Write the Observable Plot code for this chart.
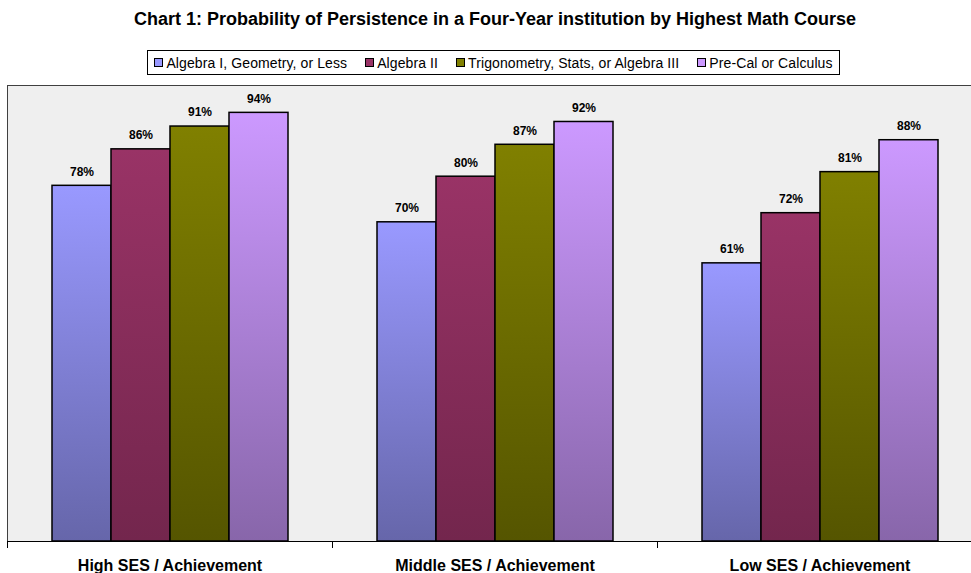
<!DOCTYPE html>
<html>
<head>
<meta charset="utf-8">
<script src="https://cdn.jsdelivr.net/npm/d3@7"></script>
<script src="https://cdn.jsdelivr.net/npm/@observablehq/plot@0.6"></script>
<style>
  html, body { margin: 0; padding: 0; overflow: hidden; background: #fff; width: 971px; height: 573px; }
  body { font-family: "Liberation Sans", Arial, sans-serif; position: relative; }
  #title { position: absolute; left: 0; top: 9px; width: 990px; text-align: center; font-weight: bold; font-size: 18px; }
  #legend { position: absolute; left: 147px; top: 50px; width: 691px; height: 23px; border: 1px solid #000; background: #fff;
            display: flex; align-items: center; justify-content: center; gap: 18px; font-size: 14px; letter-spacing: 0.1px; }
  #legend .item { display: flex; align-items: center; }
  #legend .sw { width: 7px; height: 7px; border: 1px solid #000; margin-right: 3px; }
  #chart { position: absolute; left: 0; top: 80px; width: 982px; }
  #chart svg { max-width: none !important; }
</style>
</head>
<body>
<div id="title">Chart 1: Probability of Persistence in a Four-Year institution by Highest Math Course</div>
<div id="legend"></div>
<div id="chart"></div>
<script>
const groups = ["High SES / Achievement", "Middle SES / Achievement", "Low SES / Achievement"];
const courses = ["Algebra I, Geometry, or Less", "Algebra II", "Trigonometry, Stats, or Algebra III", "Pre-Cal or Calculus"];
const highValues = [78, 86, 91, 94];
const middleValues = [70, 80, 87, 92];
const lowValues = [61, 72, 81, 88];
const topColors = ["#9999ff", "#993366", "#808000", "#cc99ff"];
const bottomColors = ["#6666aa", "#73264d", "#555500", "#8866aa"];

const seriesByGroup = [highValues, middleValues, lowValues];
const data = groups.flatMap((g, i) => seriesByGroup[i].map((v, j) => ({group: g, course: courses[j], value: v})));
const gradIds = courses.map((c, i) => "grad" + i);

// legend
const legend = d3.select("#legend");
courses.forEach((c, i) => {
  const it = legend.append("div").attr("class", "item");
  it.append("div").attr("class", "sw").style("background", topColors[i]);
  it.append("span").text(c);
});

const chart = Plot.plot({
  width: 982,
  height: 493,
  marginTop: 5,
  marginBottom: 32,
  marginLeft: 7,
  marginRight: 0,
  style: {fontFamily: "Liberation Sans, Arial, sans-serif", background: "transparent", maxWidth: "none"},
  fx: {domain: groups, padding: 0, label: null},
  x: {domain: courses, paddingInner: 0, paddingOuter: 0.754, axis: null},
  y: {domain: [0, 100], axis: null},
  color: {domain: courses, range: gradIds.map(id => `url(#${id})`)},
  marks: [
    Plot.frame({facet: "super", fill: "#efefef", stroke: "#404040"}),
    Plot.barY(data, {fx: "group", x: "course", y: "value", fill: "course", stroke: "#000", strokeWidth: 1.5}),
    Plot.text(data, {fx: "group", x: "course", y: "value", text: d => d.value + "%", dy: -14, fontWeight: "bold", fontSize: 12, fill: "#000"}),
    Plot.ruleY([0], {stroke: "#000", strokeWidth: 1}),
    Plot.frame({anchor: "left", insetTop: 456, insetBottom: -6, stroke: "#000"}),
    Plot.axisFx({anchor: "bottom", tickSize: 0, tickPadding: 18, fontSize: 16, fontWeight: "bold", label: null})
  ]
});

const svg = d3.select(chart);
const defs = svg.insert("defs", ":first-child");
courses.forEach((c, i) => {
  const lg = defs.append("linearGradient").attr("id", gradIds[i]).attr("x1", 0).attr("y1", 0).attr("x2", 0).attr("y2", 1);
  lg.append("stop").attr("offset", "0%").attr("stop-color", topColors[i]);
  lg.append("stop").attr("offset", "100%").attr("stop-color", bottomColors[i]);
});

document.getElementById("chart").appendChild(chart);
</script>
</body>
</html>
